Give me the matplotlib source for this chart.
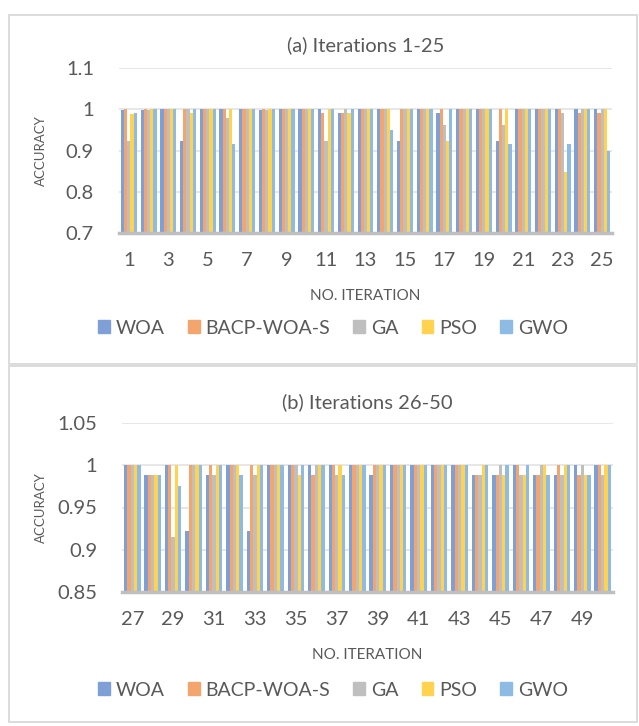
import numpy as np
import matplotlib.pyplot as plt
from matplotlib.patches import Rectangle, Patch

plt.rcParams['font.family'] = ['Lato', 'DejaVu Sans']

# data
series = ['WOA', 'BACP-WOA-S', 'GA', 'PSO', 'GWO']
colors = ['#7f9fd7', '#f4a56e', '#bfbfbf', '#ffd24f', '#8dbbe3']

iters_a = list(range(1, 26))
woa_a = [0.998, 0.997, 1, 0.923, 1, 1, 1, 0.998, 1, 1, 1, 0.99, 1, 1, 0.923, 1, 0.99, 1, 1, 0.923, 1, 1, 1, 1, 1]
bacp_a = [1, 1, 1, 1, 1, 1, 1, 1, 1, 1, 0.99, 0.99, 1, 1, 1, 1, 1, 1, 1, 1, 1, 1, 1, 0.99, 0.99]
ga_a = [0.923, 0.998, 1, 1, 1, 0.98, 1, 0.998, 1, 1, 0.923, 1, 1, 1, 1, 1, 0.961, 1, 1, 0.961, 1, 1, 0.99, 1, 1]
pso_a = [0.988, 1, 1, 0.99, 1, 1, 1, 1, 1, 1, 1, 0.99, 1, 1, 1, 1, 0.923, 1, 1, 1, 1, 1, 0.849, 1, 1]
gwo_a = [0.991, 1, 1, 1, 1, 0.915, 1, 1, 1, 1, 1, 1, 1, 0.95, 1, 1, 1, 1, 1, 0.916, 1, 1, 0.916, 1, 0.9]

iters_b = list(range(27, 51))
woa_b = [1, 0.989, 1, 0.922, 0.989, 1, 0.922, 1, 1, 1, 1, 1, 0.989, 1, 1, 1, 1, 0.989, 0.989, 1, 0.989, 0.989, 1, 1]
bacp_b = [1, 0.989, 1, 1, 1, 1, 1, 1, 1, 0.989, 1, 1, 1, 1, 1, 1, 1, 0.989, 0.989, 1, 0.989, 1, 0.989, 1]
ga_b = [1, 0.989, 0.915, 1, 0.989, 1, 0.989, 1, 1, 1, 0.989, 1, 1, 1, 1, 1, 1, 0.989, 1, 0.989, 1, 0.989, 1, 0.989]
pso_b = [1, 0.989, 1, 1, 1, 1, 1, 1, 0.989, 1, 1, 1, 1, 1, 1, 1, 1, 1, 0.989, 0.989, 1, 1, 0.989, 1]
gwo_b = [1, 0.989, 0.976, 1, 1, 0.989, 1, 1, 1, 1, 0.989, 1, 1, 1, 1, 1, 1, 1, 1, 1, 0.989, 1, 0.989, 1]

txt = '#595959'
W, H = 639, 726
fig = plt.figure(figsize=(W / 100, H / 100), dpi=100)


def fx(px):
    return px / W


def fy(py):
    return 1 - py / H


def panel(box, ax_rect, iters, data, ylim, yticks, ylabels, title, title_y, xlab_y, leg_y):
    bx0, by0, bx1, by1 = box
    fig.patches.append(Rectangle((fx(bx0), fy(by1)), fx(bx1 - bx0), (by1 - by0) / H,
                                 transform=fig.transFigure, fill=False,
                                 edgecolor='#d9d9d9', lw=1.3))
    l, t, r, b = ax_rect
    ax = fig.add_axes([fx(l), fy(b), fx(r - l), (b - t) / H])
    n = len(iters)
    x = np.arange(n)
    w = 0.162
    for i, vals in enumerate(data):
        ax.bar(x + (i - 2) * w, np.array(vals) - ylim[0], w, bottom=ylim[0],
               color=colors[i], zorder=3)
    ax.set_xlim(-0.5, n - 0.5)
    ax.set_ylim(*ylim)
    ax.set_yticks(yticks)
    ax.set_yticklabels(ylabels, fontsize=14.5, color=txt)
    ax.set_xticks(x[::2])
    ax.set_xticklabels([str(v) for v in iters[::2]], fontsize=14.5, color=txt)
    ax.tick_params(length=0)
    ax.tick_params(axis='x', pad=14)
    ax.tick_params(axis='y', pad=18)
    ax.grid(axis='y', color='#e3e3e3', lw=1.2, zorder=0)
    for s in ['top', 'right', 'left']:
        ax.spines[s].set_visible(False)
    ax.spines['bottom'].set_color('#bfbfbf')
    ax.spines['bottom'].set_linewidth(2.5)
    ax.spines['bottom'].set_zorder(4)
    ax.set_ylabel('ACCURACY', fontsize=9.5, color=txt)
    ax.yaxis.set_label_coords(fx(47 - l) / fx(r - l), 0.5)
    fig.text(fx((l + r) / 2), fy(title_y), title, ha='center', va='center',
             fontsize=14.5, color=txt)
    fig.text(fx((l + r) / 2), fy(xlab_y), 'NO. ITERATION', ha='center', va='center',
             fontsize=11, color=txt)
    handles = [Patch(color=c, label=s) for c, s in zip(colors, series)]
    fig.legend(handles=handles, loc='center', bbox_to_anchor=(fx(333), fy(leg_y)),
               ncol=5, frameon=False, fontsize=14, labelcolor=txt,
               handlelength=0.6, handleheight=0.6, handletextpad=0.3, columnspacing=1.2)
    return ax


panel((9, 15, 637, 364), (119, 68, 612, 233), iters_a,
      [woa_a, bacp_a, ga_a, pso_a, gwo_a], (0.7, 1.1),
      [0.7, 0.8, 0.9, 1.0, 1.1], ['0.7', '0.8', '0.9', '1', '1.1'],
      '(a) Iterations 1-25', 45, 296, 328)

panel((9, 366, 637, 722), (122, 423, 613, 592), iters_b,
      [woa_b, bacp_b, ga_b, pso_b, gwo_b], (0.85, 1.05),
      [0.85, 0.9, 0.95, 1.0, 1.05], ['0.85', '0.9', '0.95', '1', '1.05'],
      '(b) Iterations 26-50', 402, 655, 690)

fig.savefig('out.png', dpi=100)
